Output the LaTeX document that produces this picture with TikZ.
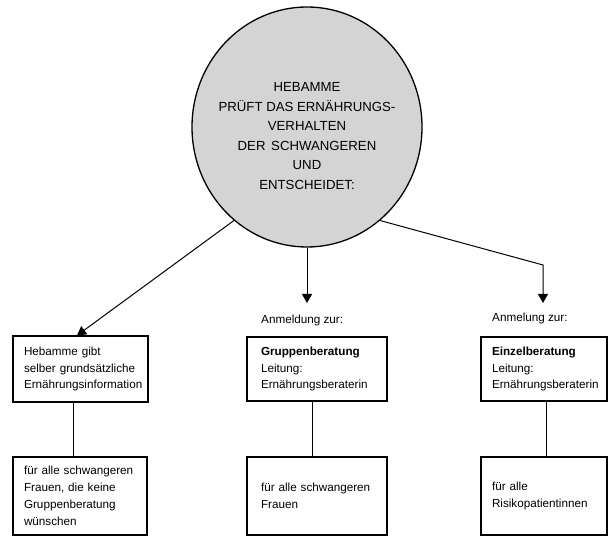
\documentclass[tikz,border=0pt]{standalone}
\usepackage{fontspec}
\setmainfont{Liberation Sans}
\usetikzlibrary{shapes.geometric,arrows.meta}
\hfuzz=20pt
\begin{document}
\begin{tikzpicture}[x=1pt,y=-1pt,
  boxfont/.style={font=\fontsize{11.7}{16.5}\selectfont},
  lowfont/.style={font=\fontsize{11.7}{17.2}\selectfont},
  stepbox/.style={draw, line width=1.1pt, inner ysep=0pt, align=left},
  conn/.style={line width=1pt},
  arr/.style={line width=1pt, -{Triangle[length=9pt,width=10pt]}},
  lbl/.style={anchor=west, inner sep=0pt, font=\fontsize{11.7}{14}\selectfont}]
\useasboundingbox (0,0) rectangle (608,537);

% central circle
\node[ellipse, draw, line width=1.3pt, fill=black!17, minimum width=230pt, minimum height=240pt, inner sep=0pt] (circ) at (307,127) {};
\node[align=center, inner sep=0pt, font=\fontsize{13.2}{19.6}\selectfont] (ctext) at (307,136)
  {HEBAMME\\PRÜFT DAS ERNÄHRUNGS-\\VERHALTEN\\DER\hspace{2pt} SCHWANGEREN\\UND\\ENTSCHEIDET:};

% upper boxes
\node[stepbox, boxfont, inner xsep=11pt, text width=113pt, minimum height=66pt] (b1) at (80.5,369)
  {\mbox{Hebamme gibt}\\\mbox{selber grundsätzliche}\\\mbox{Ernährungsinformation}};
\node[stepbox, boxfont, inner xsep=14pt, text width=112pt, minimum height=64pt] (b2) at (317,369)
  {\mbox{\textbf{Gruppenberatung}}\\\mbox{Leitung:}\\\mbox{Ernährungsberaterin}};
\node[stepbox, boxfont, inner xsep=11pt, text width=104pt, minimum height=64pt] (b3) at (544,369)
  {\mbox{\textbf{Einzelberatung}}\\\mbox{Leitung:}\\\mbox{Ernährungsberaterin}};

% lower boxes
\node[stepbox, lowfont, inner xsep=11pt, text width=112pt, minimum height=78pt] (c1) at (80,496)
  {\mbox{für alle schwangeren}\\\mbox{Frauen, die keine}\\\mbox{Gruppenberatung}\\\mbox{wünschen}};
\node[stepbox, lowfont, inner xsep=14pt, text width=112pt, minimum height=78pt] (c2) at (317,496)
  {\mbox{für alle schwangeren}\\\mbox{Frauen}};
\node[stepbox, lowfont, inner xsep=11pt, text width=104pt, minimum height=78pt] (c3) at (544,496)
  {\mbox{für alle}\\\mbox{Risikopatientinnen}};

% labels
\node[lbl] (l2) at (261,320) {Anmeldung zur:};
\node[lbl] (l3) at (492,318) {Anmelung zur:};

% connector points
\coordinate (t2) at (307,303);
\coordinate (k3) at (543,265);
\coordinate (t3) at (543,303);

% arrows
\draw[arr] (circ.-128) -- ([xshift=-3.5pt]b1.north);
\draw[arr] (circ.south) -- (t2);
\draw[arr] (circ.-52) -- (k3) -- (t3);

% vertical links
\draw[conn] ([xshift=-7.5pt]b1.south) -- ([xshift=-7.5pt]b1.south |- c1.north);
\draw[conn] ([xshift=-5pt]b2.south) -- ([xshift=-5pt]b2.south |- c2.north);
\draw[conn] ([xshift=2pt]b3.south) -- ([xshift=2pt]b3.south |- c3.north);
\end{tikzpicture}
\end{document}
